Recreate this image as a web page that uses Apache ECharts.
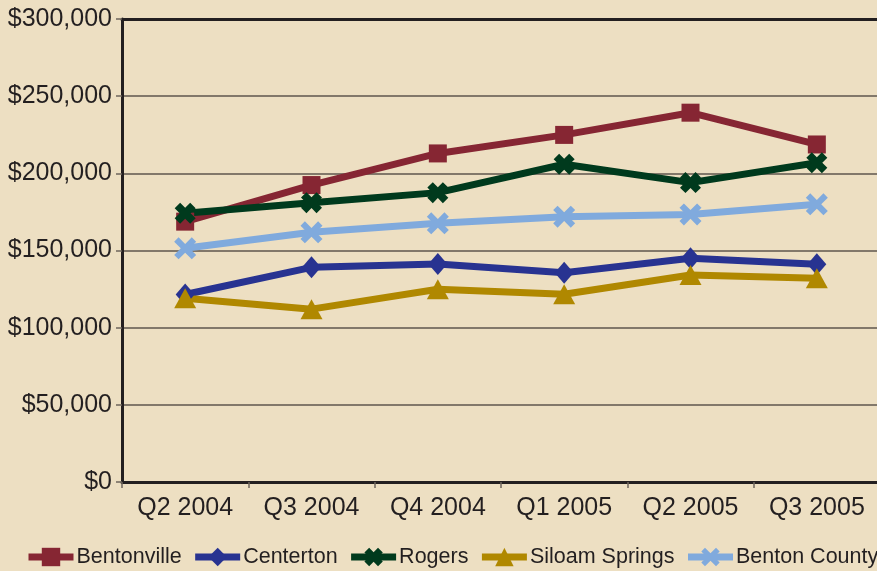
<!DOCTYPE html>
<html>
<head>
<meta charset="utf-8">
<script src="https://cdn.jsdelivr.net/npm/echarts@6/dist/echarts.min.js"></script>
<style>
  html, body { margin: 0; padding: 0; background: #EDDFC2; overflow: hidden; }
  #chart { width: 900px; height: 571px; }
</style>
</head>
<body>
<div id="chart"></div>
<script>
// Quarterly median home prices by city
var quarters = ['Q2 2004', 'Q3 2004', 'Q4 2004', 'Q1 2005', 'Q2 2005', 'Q3 2005'];
var bentonville = [168700, 192400, 212900, 224900, 239300, 218700];
var centerton = [121500, 139100, 141300, 135600, 145000, 141100];
var rogers = [174100, 181000, 187500, 205900, 194000, 206900];
var siloamSprings = [119000, 112000, 124900, 121600, 134100, 132000];
var bentonCounty = [151400, 161800, 167600, 171900, 173400, 179900];
var yTicks = [0, 50000, 100000, 150000, 200000, 250000, 300000];

var xThin = 'path://M0,2 L2,0 L5,3 L8,0 L10,2 L7,5 L10,8 L8,10 L5,7 L2,10 L0,8 L3,5 Z';
var xBold = 'path://M0,2.6 L2.6,0 L5,2.4 L7.4,0 L10,2.6 L7.6,5 L10,7.4 L7.4,10 L5,7.6 L2.6,10 L0,7.4 L2.4,5 Z';

function money(v) {
  return '$' + String(v).replace(/\B(?=(\d{3})+(?!\d))/g, ',');
}

var font = '"Liberation Sans", Arial, sans-serif';

function series(name, data, color, symbol, size) {
  return {
    name: name,
    type: 'line',
    data: data,
    symbol: symbol,
    symbolSize: size,
    showAllSymbol: true,
    lineStyle: { color: color, width: 7 },
    itemStyle: { color: color },
    emphasis: { disabled: true },
    animation: false
  };
}

// the plot runs slightly past the right edge of the visible page
var chart = echarts.init(document.getElementById('chart'), null, { renderer: 'canvas' });
chart.setOption({
  backgroundColor: '#EDDFC2',
  animation: false,
  grid: { left: 122, top: 19, width: 758, height: 463, containLabel: false },
  legend: {
    left: 20,
    bottom: -2,
    itemWidth: 45,
    itemHeight: 23,
    itemGap: 10,
    lineStyle: { width: 7 },
    textStyle: { fontFamily: font, fontSize: 21.5, color: '#231f20', padding: [0, 0, 0, -2] },
    data: ['Bentonville', 'Centerton', 'Rogers', 'Siloam Springs', 'Benton County']
  },
  xAxis: [{
    type: 'category',
    data: quarters,
    boundaryGap: true,
    axisLine: { lineStyle: { color: '#231f20', width: 3 } },
    axisTick: { show: true, length: 6, lineStyle: { color: '#6e665c', width: 1.5 } },
    axisLabel: { fontFamily: font, fontSize: 25, color: '#231f20', margin: 14 },
    splitLine: { show: false }
  }, {
    type: 'category',
    data: quarters,
    position: 'top',
    axisLine: { lineStyle: { color: '#231f20', width: 3 } },
    axisTick: { show: false },
    axisLabel: { show: false }
  }],
  yAxis: {
    type: 'value',
    min: yTicks[0],
    max: yTicks[yTicks.length - 1],
    interval: yTicks[1] - yTicks[0],
    axisLine: { show: true, lineStyle: { color: '#231f20', width: 3 } },
    axisTick: { show: true, length: 6, lineStyle: { color: '#6e665c', width: 1.5 } },
    axisLabel: { fontFamily: font, fontSize: 25, color: '#231f20', margin: 10, formatter: money },
    splitLine: { show: true, lineStyle: { color: '#5e564d', width: 1.5 } }
  },
  series: [
    series('Bentonville', bentonville, '#862633', 'rect', 18),
    series('Centerton', centerton, '#283391', 'diamond', [19, 22]),
    series('Rogers', rogers, '#003A1D', xBold, 21),
    series('Siloam Springs', siloamSprings, '#B08800', 'triangle', [22, 20]),
    series('Benton County', bentonCounty, '#80AADD', xThin, 22)
  ]
});
</script>
</body>
</html>
